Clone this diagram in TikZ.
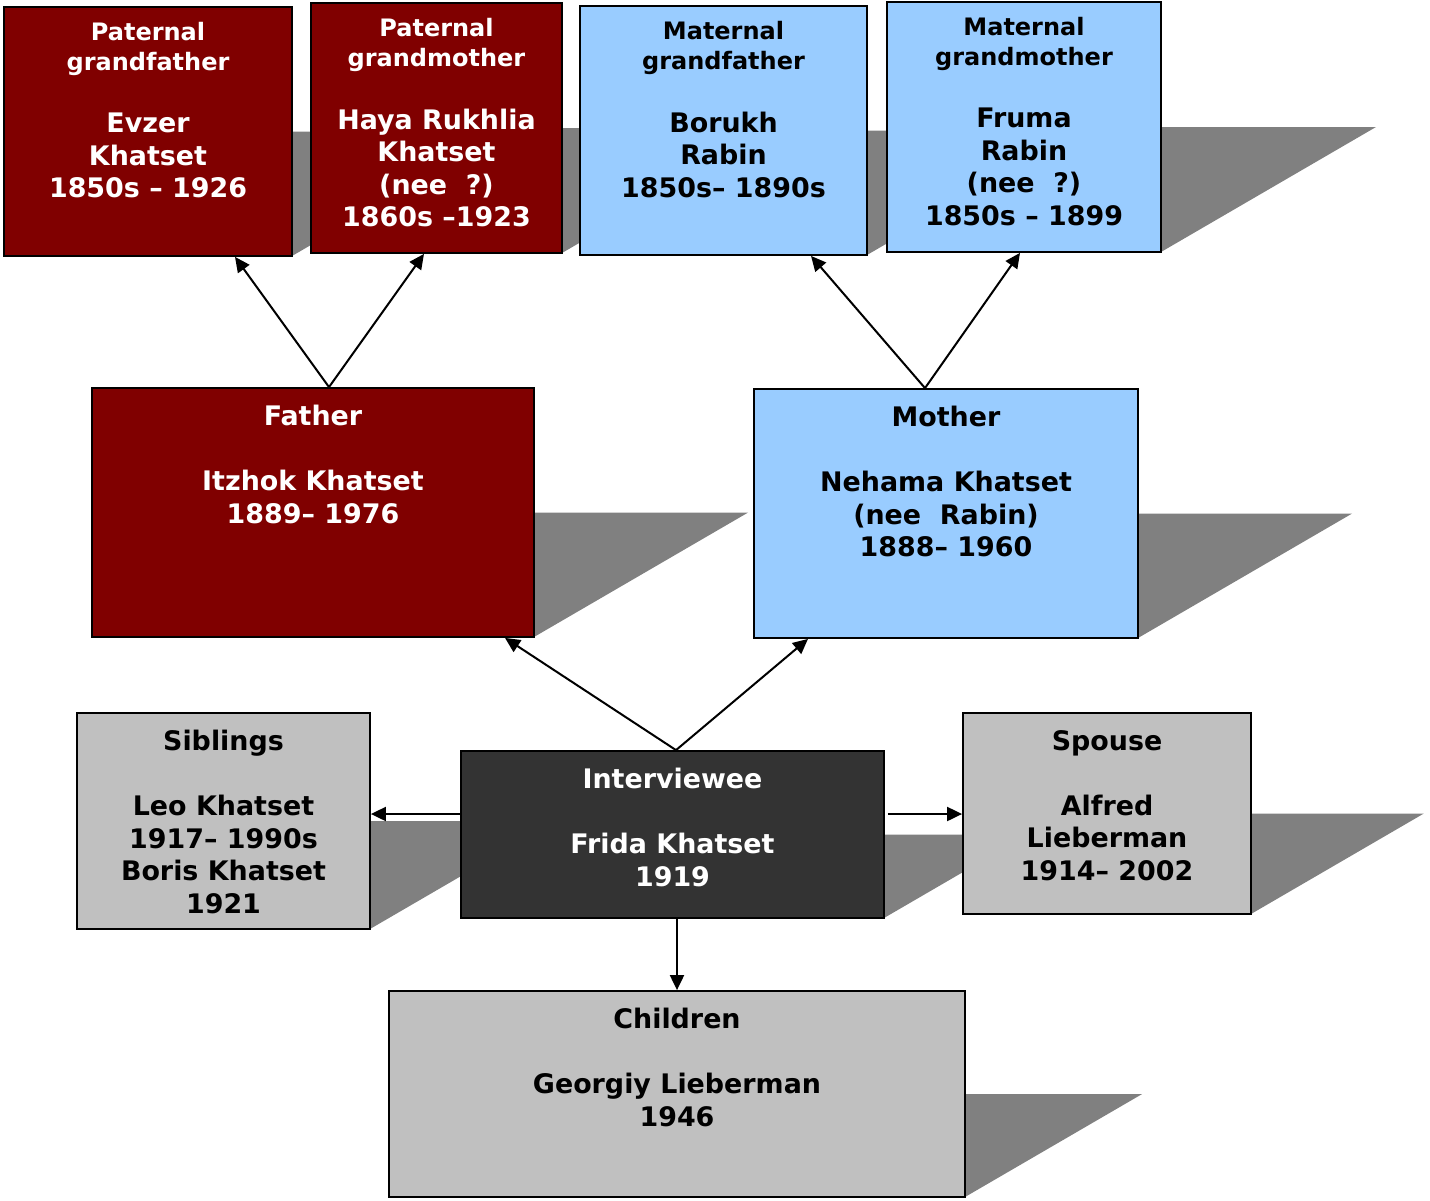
\documentclass[tikz,border=0pt]{standalone}
\usepackage{fontspec}
\setmainfont{DejaVu Sans}
\usetikzlibrary{arrows.meta}
\definecolor{dred}{HTML}{800000}
\definecolor{lblue}{HTML}{99CCFF}
\definecolor{lgray}{HTML}{C0C0C0}
\definecolor{dgray}{HTML}{333333}
\definecolor{shadowc}{HTML}{808080}
\newcommand\bigf{\fontsize{26.9}{32.5}\selectfont\bfseries}
\newcommand\smallf{\fontsize{24}{29.5}\selectfont\bfseries}
\newcommand\mystrut{\rule{0pt}{20pt}}
\newcommand\castshadow[4]{\fill[shadowc] (#1,#4) -- (#3,#4) -- ({#3+0.86*(#4-#2)},{#4-0.5*(#4-#2)}) -- ({#1+0.86*(#4-#2)},{#4-0.5*(#4-#2)}) -- cycle;}
\begin{document}
\begin{tikzpicture}[x=1pt, y=-1pt,
  box/.style={draw=black, line width=1.8pt, inner sep=0pt, anchor=center},
  txt/.style={anchor=north, inner sep=0pt, align=center, font=\bigf},
  ttl/.style={anchor=north, inner sep=0pt, align=center, font=\smallf},
  arr/.style={line width=2pt, -{Triangle[length=15pt,width=14pt]}}]
\useasboundingbox (0,0) rectangle (1430,1200);
% shadows
\castshadow{4}{7}{292}{256}
\castshadow{311}{3}{562}{253}
\castshadow{580}{6}{867}{255}
\castshadow{887}{2}{1161}{252}
\castshadow{92}{388}{534}{637}
\castshadow{754}{389}{1138}{638}
\castshadow{77}{713}{370}{929}
\castshadow{461}{751}{884}{918}
\castshadow{963}{713}{1251}{914}
\castshadow{389}{991}{965}{1197}
% boxes
\node[box, fill=dred,  minimum width=288pt, minimum height=249pt] (pgf) at (148,131.5) {};
\node[box, fill=dred,  minimum width=251pt, minimum height=250pt] (pgm) at (436.5,128) {};
\node[box, fill=lblue, minimum width=287pt, minimum height=249pt] (mgf) at (723.5,130.5) {};
\node[box, fill=lblue, minimum width=274pt, minimum height=250pt] (mgm) at (1024,127) {};
\node[box, fill=dred,  minimum width=442pt, minimum height=249pt] (fa) at (313,512.5) {};
\node[box, fill=lblue, minimum width=384pt, minimum height=249pt] (mo) at (946,513.5) {};
\node[box, fill=lgray, minimum width=293pt, minimum height=216pt] (sib) at (223.5,821) {};
\node[box, fill=dgray, minimum width=423pt, minimum height=167pt] (int) at (672.5,834.5) {};
\node[box, fill=lgray, minimum width=288pt, minimum height=201pt] (sp) at (1107,813.5) {};
\node[box, fill=lgray, minimum width=576pt, minimum height=206pt] (ch) at (677,1094) {};
% texts
\node[ttl, text=white] (pgf1) at ([yshift=-14.5pt]pgf.north) {\mystrut Paternal\\grandfather};
\node[txt, text=white] (pgf2) at ([yshift=-106.5pt]pgf.north) {\mystrut Evzer\\Khatset\\1850s – 1926};
\node[ttl, text=white] (pgm1) at ([yshift=-14.5pt]pgm.north) {\mystrut Paternal\\grandmother};
\node[txt, text=white] (pgm2) at ([yshift=-106.5pt]pgm.north) {\mystrut Haya Rukhlia\\Khatset\\(nee~~?)\\1860s –1923};
\node[ttl] (mgf1) at ([yshift=-14.5pt]mgf.north) {\mystrut Maternal\\grandfather};
\node[txt] (mgf2) at ([yshift=-106.5pt]mgf.north) {\mystrut Borukh\\Rabin\\1850s– 1890s};
\node[ttl] (mgm1) at ([yshift=-14.5pt]mgm.north) {\mystrut Maternal\\grandmother};
\node[txt] (mgm2) at ([yshift=-106.5pt]mgm.north) {\mystrut Fruma\\Rabin\\(nee~~?)\\1850s – 1899};
\node[txt, text=white] (fat) at ([yshift=-18pt]fa.north) {\mystrut Father\\[32.5pt]Itzhok Khatset\\1889– 1976};
\node[txt] (mot) at ([yshift=-18pt]mo.north) {\mystrut Mother\\[32.5pt]Nehama Khatset\\(nee~~Rabin)\\1888– 1960};
\node[txt] (sibt) at ([yshift=-18pt]sib.north) {\mystrut Siblings\\[32.5pt]Leo Khatset\\1917– 1990s\\Boris Khatset\\1921};
\node[txt, text=white] (intt) at ([yshift=-18pt]int.north) {\mystrut Interviewee\\[32.5pt]Frida Khatset\\1919};
\node[txt] (spt) at ([yshift=-18pt]sp.north) {\mystrut Spouse\\[32.5pt]Alfred\\Lieberman\\1914– 2002};
\node[txt] (cht) at ([yshift=-18pt]ch.north) {\mystrut Children\\[32.5pt]Georgiy Lieberman\\1946};
% connectors
\draw[arr] ([xshift=16pt]fa.north) -- ([xshift=87pt]pgf.south);
\draw[arr] ([xshift=16pt]fa.north) -- ([xshift=-12.5pt]pgm.south);
\draw[arr] ([xshift=-21pt]mo.north) -- ([xshift=87.5pt]mgf.south);
\draw[arr] ([xshift=-21pt]mo.north) -- ([xshift=-4pt]mgm.south);
\draw[arr] ([xshift=3.5pt]int.north) -- ([xshift=192pt]fa.south);
\draw[arr] ([xshift=3.5pt]int.north) -- ([xshift=-138pt]mo.south);
\draw[arr] ([yshift=20.5pt]int.west) -- ([yshift=7pt]sib.east);
\draw[arr] ([shift={(3pt,20.5pt)}]int.east) -- ([yshift=-0.5pt]sp.west);
\draw[arr] ([xshift=4.5pt]int.south) -- (ch.north);
\end{tikzpicture}
\end{document}
